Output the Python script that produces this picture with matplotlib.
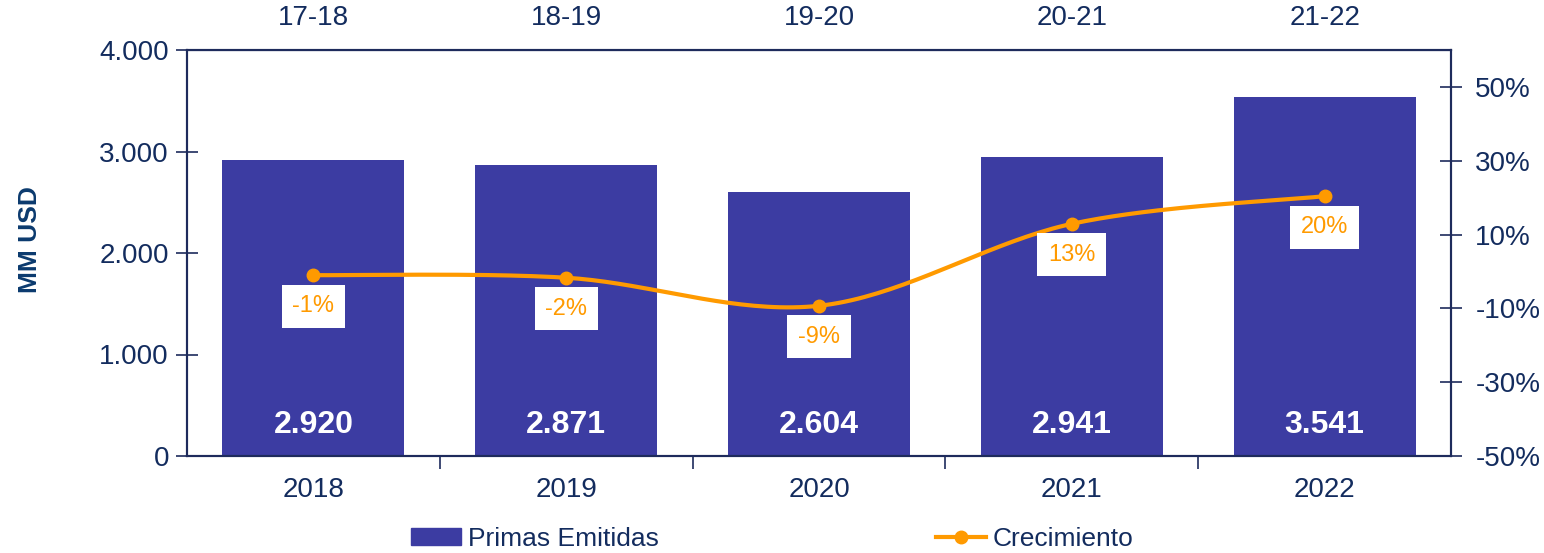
import numpy as np
import matplotlib
matplotlib.use("Agg")
import matplotlib.pyplot as plt
from matplotlib.patches import Patch
from matplotlib.lines import Line2D

years = ["2018", "2019", "2020", "2021", "2022"]
periods = ["17-18", "18-19", "19-20", "20-21", "21-22"]
primas = [2920, 2871, 2604, 2941, 3541]
crecimiento = [-0.010, -0.017, -0.093, 0.129, 0.204]
left_ticks = [0, 1000, 2000, 3000, 4000]
right_ticks = [-0.5, -0.3, -0.1, 0.1, 0.3, 0.5]

plt.rcParams['font.family'] = ['Liberation Sans', 'DejaVu Sans']
TXT = '#132C5E'
AX = '#1E2B5C'
BAR = '#3C3CA2'
ORG = '#FF9A00'

fig = plt.figure(figsize=(15.44, 5.53), dpi=100)
ax = fig.add_axes([187/1544, 1-456/553, (1451-187)/1544, (456-50)/553])
x = np.arange(len(years))
ax.bar(x, primas, width=0.72, color=BAR, zorder=2)
ax.set_xlim(-0.5, len(years)-0.5)
ax.set_ylim(0, 4000)
ax.set_yticks(left_ticks)
ax.set_yticklabels([f"{v:,}".replace(",", ".") for v in left_ticks])
ax.tick_params(axis='y', direction='inout', length=16, width=1.2, color=AX,
               labelsize=20, labelcolor=TXT, pad=5)
ax.set_xticks(np.arange(len(years)-1)+0.5)
ax.set_xticklabels([])
ax.tick_params(axis='x', which='major', direction='out', length=9, width=1.2, color=AX)
ax.set_xticks(x, minor=True)
ax.set_xticklabels(years, minor=True)
ax.tick_params(axis='x', which='minor', length=0, labelsize=20, labelcolor=TXT, pad=15)
for s in ax.spines.values():
    s.set_color(AX)
    s.set_linewidth(1.5)

for xi, v in zip(x, primas):
    ax.annotate(f"{v:,}".replace(",", "."), (xi, 0), xytext=(0, 31), textcoords='offset pixels',
                ha='center', va='center', color='white', fontsize=23, fontweight='bold', zorder=5)

top = ax.secondary_xaxis('top')
top.set_xticks(x)
top.set_xticklabels(periods)
top.tick_params(length=0, labelsize=20, labelcolor=TXT, pad=14)
top.spines['top'].set_color(AX)

ax2 = ax.twinx()
ax2.set_ylim(-0.5, 0.6)
ax2.set_yticks(right_ticks)
ax2.set_yticklabels([f"{int(round(v*100))}%" for v in right_ticks])
ax2.tick_params(axis='y', direction='inout', length=16, width=1.2, color=AX,
                labelsize=20, labelcolor=TXT, pad=9.5)
for s in ax2.spines.values():
    s.set_color(AX)
    s.set_linewidth(1.5)

# smooth curve (Bezier smoothing like spreadsheet charts)
xs = x.astype(float)
ys = np.array(crecimiento)
curve_x, curve_y = [], []
n = len(xs)
for i in range(n-1):
    p0 = np.array([xs[max(i-1, 0)], ys[max(i-1, 0)]])
    p1 = np.array([xs[i], ys[i]])
    p2 = np.array([xs[i+1], ys[i+1]])
    p3 = np.array([xs[min(i+2, n-1)], ys[min(i+2, n-1)]])
    c1 = p1 + (p2 - p0) / 6
    c2 = p2 - (p3 - p1) / 6
    t = np.linspace(0, 1, 40)[:, None]
    b = (1-t)**3*p1 + 3*(1-t)**2*t*c1 + 3*(1-t)*t**2*c2 + t**3*p2
    curve_x.extend(b[:, 0]); curve_y.extend(b[:, 1])
ax2.plot(curve_x, curve_y, color=ORG, lw=3, zorder=3, solid_capstyle='round')
ax2.plot(xs, ys, 'o', color=ORG, ms=9, zorder=4)
for xi, v in zip(xs, ys):
    ax2.annotate(f"{int(round(v*100))}%", (xi, v), xytext=(0, -31), textcoords='offset pixels',
                 ha='center', va='center', color=ORG, fontsize=17,
                 bbox=dict(boxstyle='square,pad=0.45', fc='white', ec='none'), zorder=6)

fig.text(30/1544, 1-240/553, "MM USD", rotation=90, ha='center', va='center',
         fontsize=19, fontweight='bold', color='#0B3A6E')

handles = [Patch(color=BAR), Line2D([0], [0], color=ORG, lw=3, marker='o', ms=9)]
fig.legend(handles, ["Primas Emitidas", "Crecimiento"], loc='center', ncol=2,
           bbox_to_anchor=(0.5, 0.025), frameon=False, fontsize=19, labelcolor=TXT,
           handlelength=1.9, handletextpad=0.25, columnspacing=10.5, handleheight=0.6)

fig.savefig("out.png", dpi=100)
